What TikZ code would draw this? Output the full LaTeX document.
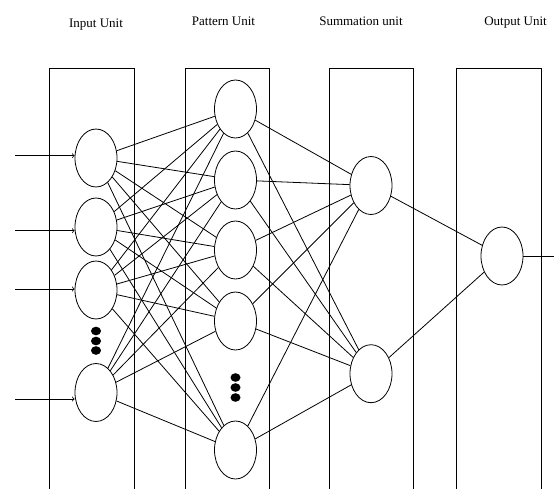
\documentclass[tikz,border=0pt]{standalone}
\usepackage{fontspec}
\setmainfont{Liberation Serif}
\usetikzlibrary{shapes.geometric}
\tikzset{
    neuron/.style={draw, ellipse, minimum width=42pt, minimum height=58pt, inner sep=0pt},
    unitlabel/.style={anchor=base, font=\fontsize{13}{15}\selectfont},
}
\begin{document}
\begin{tikzpicture}[x=1pt, y=-1pt, line width=0.8pt]
    \useasboundingbox (0, 0) rectangle (554, 488);
    % titles
    \node[unitlabel] (tin) at (96, 27.7) {Input Unit};
    \node[unitlabel] (tpat) at (223.5, 25.3) {Pattern Unit};
    \node[unitlabel] (tsum) at (361, 25.7) {Summation unit};
    \node[unitlabel] (tout) at (515.5, 25.7) {Output Unit};
    % columns
    \draw (49.3, 492) |- (134, 68) -- (134, 492);
    \draw (185, 492) |- (269, 68) -- (269, 492);
    \draw (329, 492) |- (413, 68) -- (413, 492);
    \draw (456, 492) |- (541, 68) -- (541, 492);
    % input unit
    \node[neuron] (in1) at (96, 158) {};
    \node[neuron] (in2) at (96, 227) {};
    \node[neuron] (in3) at (96, 290) {};
    \node[neuron] (in4) at (96, 392.5) {};
    \fill (96, 331) ellipse (5 and 4.3);
    \fill (96, 341) ellipse (5 and 4.3);
    \fill (96, 350.5) ellipse (5 and 4.3);
    % pattern unit
    \node[neuron] (p1) at (235.5, 109) {};
    \node[neuron] (p2) at (235.5, 180) {};
    \node[neuron] (p3) at (235.5, 250) {};
    \node[neuron] (p4) at (235.5, 321) {};
    \node[neuron] (p5) at (235.5, 450) {};
    \fill (235.5, 377.5) ellipse (5 and 4.3);
    \fill (235.5, 387.5) ellipse (5 and 4.3);
    \fill (235.5, 397.5) ellipse (5 and 4.3);
    % summation and output unit
    \node[neuron] (s1) at (371, 185.5) {};
    \node[neuron] (s2) at (371, 373.7) {};
    \node[neuron] (o) at (502, 256) {};
    % inputs
    \coordinate (x1) at (15, 155.7);
    \coordinate (x2) at (15, 230.7);
    \coordinate (x3) at (15, 289);
    \coordinate (x4) at (15, 399);
    \draw[->] (x1) -- (x1 -| in1.west);
    \draw[->] (x2) -- (x2 -| in2.west);
    \draw[->] (x3) -- (x3 -| in3.west);
    \draw[->] (x4) -- (x4 -| in4.west);
    % input to pattern
    \draw (in1) -- (p1) (in1) -- (p2) (in1) -- (p3) (in1) -- (p4) (in1) -- (p5);
    \draw (in2) -- (p1) (in2) -- (p2) (in2) -- (p3) (in2) -- (p4) (in2) -- (p5);
    \draw (in3) -- (p1) (in3) -- (p2) (in3) -- (p3) (in3) -- (p4) (in3) -- (p5);
    \draw (in4) -- (p1) (in4) -- (p2) (in4) -- (p3) (in4) -- (p4) (in4) -- (p5);
    % pattern to summation
    \draw (p1) -- (s1) (p2) -- (s1) (p3) -- (s1) (p4) -- (s1) (p5) -- (s1);
    \draw (p1) -- (s2) (p2) -- (s2) (p3) -- (s2) (p4) -- (s2) (p5) -- (s2);
    % summation to output
    \draw (s1) -- (o) (s2) -- (o);
    \coordinate (y) at (554, 256);
    \draw (o.east) -- (y);
\end{tikzpicture}
\end{document}
